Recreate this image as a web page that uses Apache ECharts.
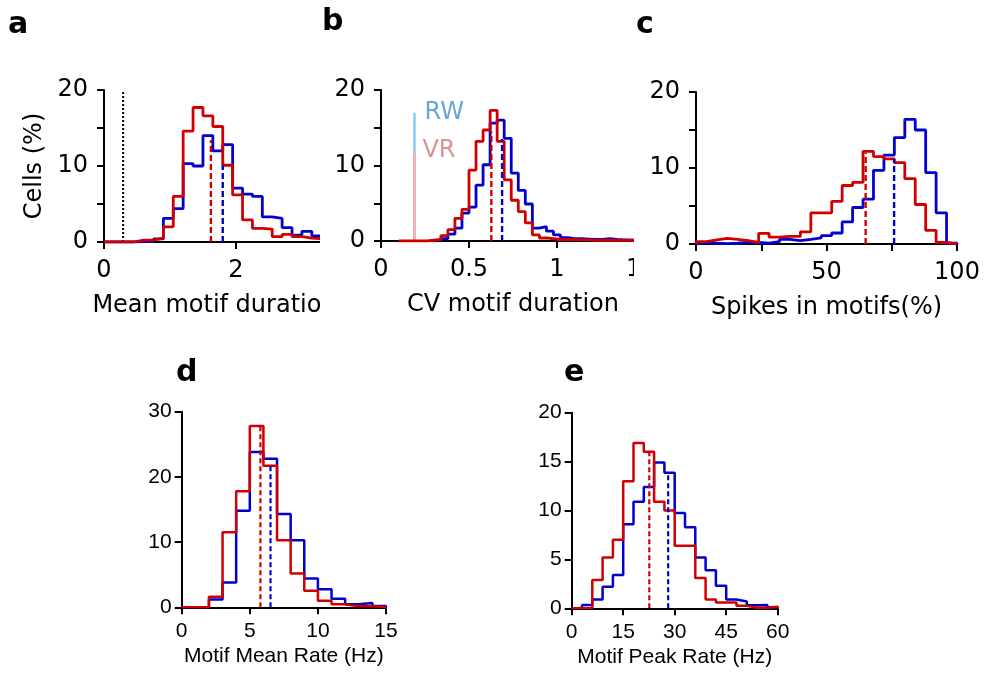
<!DOCTYPE html>
<html><head><meta charset="utf-8">
<script src="https://cdn.jsdelivr.net/npm/echarts@6/dist/echarts.min.js"></script>
<style>
html,body{margin:0;padding:0;background:#fff;width:984px;height:673px;overflow:hidden;}
.p{position:absolute;overflow:hidden;}
</style></head><body>
<div id="pa" class="p" style="left:0;top:0;width:320px;height:340px"></div>
<div id="pb" class="p" style="left:320px;top:0;width:314px;height:340px"></div>
<div id="pc" class="p" style="left:634px;top:0;width:350px;height:340px"></div>
<div id="pd" class="p" style="left:0;top:340px;width:490px;height:333px"></div>
<div id="pe" class="p" style="left:490px;top:340px;width:494px;height:333px"></div>
<script>
// ---------- DATA ----------
// Panel a: Mean motif duration, bins of 0.15 starting at 0
const aBinStart = 0, aBinWidth = 0.15;
const aRed  = [0,0,0,0.25,0.25,0.5,2.0,6.0,14.6,17.7,16.6,15.2,10.1,6.2,2.9,1.8,1.7,0.7,1.0,0.7,0.5,0.45,0.45];
const aBlue = [0,0,0,0.05,0.05,0.4,3.1,4.4,10.3,10.0,14.0,12.0,12.8,7.1,6.3,6.0,3.3,3.1,1.9,0.9,1.4,0.8,0.8];
const aMedRed = [1.62, 13.4], aMedBlue = [1.80, 10.1];
const aThreshold = [0.29, 20];
const aXTicks = [0, 2], aYTicks = [0, 10, 20];

// Panel b: CV motif duration, bins of 0.04
const bBinWidth = 0.04;
const bRedStart = 0.10;
const bRed  = [0,0,0,0,0.1,0.2,0.7,1.5,3.0,4.2,9.4,13.2,14.7,17.3,13.2,8.1,5.4,3.9,2.4,0.8,0.4,0.3,0.2,0.2,0.2,0.15,0.15,0.1,0.1,0.1,0.1,0.1,0.1,0.1,0.1];
const bBlueStart = 0.34;
const bBlue = [0.3,0.9,1.7,3.7,4.5,7.4,10.1,15.6,16.0,13.6,9.0,6.7,4.9,1.7,1.9,1.3,0.8,0.45,0.3,0.3,0.25,0.2,0.2,0.3,0.2,0.15,0.1,0.1,0.1];
const bMedRed = [0.627, 14.5], bMedBlue = [0.688, 13.5];
const bLegendX = 0.19, bRWTop = 17, bVRTop = 12;
const bYTicks = [0, 10, 20];

// Panel c: Spikes in motifs (%), bins of 4
const cBinStart = 0, cBinWidth = 4;
const cRed  = [0.3,0.55,0.75,0.6,0.45,0.2,1.4,0.9,1.0,1.0,1.6,4.1,4.1,5.6,7.7,8.1,12.2,11.5,11.2,10.7,8.6,5.2,1.8,0.2,0];
const cBlue = [0.2,0.1,0.05,0.1,0.2,0.2,0.1,0.3,0.6,0.45,0.6,0.8,1.1,1.45,2.9,4.8,5.9,9.7,11.7,14.0,16.4,15.0,9.4,4.1,0.1];
const cMedRed = [65, 12.0], cMedBlue = [75.9, 11.2];
const cXTicks = [0, 50, 100], cYTicks = [0, 10, 20];

// Panel d: Motif Mean Rate (Hz), bins of 1
const dBinStart = 0, dBinWidth = 1;
const dRed  = [0,0,1.6,11.5,17.8,27.8,21.7,10.3,5.2,2.55,1.0,0.45,0.15,0.15,0.05];
const dBlue = [0,0,1.2,3.8,14.8,23.8,22.8,14.3,10.3,4.4,2.75,1.3,0.45,0.65,0.2];
const dMedRed = [5.78, 27.8], dMedBlue = [6.52, 21.9];

// Panel e: Motif Peak Rate (Hz), bins of 3
const eBinStart = 0, eBinWidth = 3;
const eRed  = [0,0,2.9,5.2,7.0,13.0,16.9,16.0,10.9,10.0,6.4,6.4,3.1,0.9,0.6,0.6,0.25,0.05,0.05,0.15];
const eBlue = [0,0.35,0.9,2.2,3.4,8.6,10.9,12.4,14.9,13.85,9.75,8.3,5.2,3.9,2.3,0.9,0.7,0.3,0.35,0.1];
const eMedRed = [22.6, 16.0], eMedBlue = [28.1, 13.6];

// ---------- STYLE ----------
const RED = '#d00000', BLUE = '#0000d0';
const FT = 'DejaVu Sans', FB = 'Liberation Sans';
const AX = {color:'#000', width:2};

function hist(start, w, vals) {
  const pts = [[start, 0]];
  for (let i = 0; i < vals.length; i++) {
    const x0 = +(start + i * w).toFixed(6), x1 = +(start + (i + 1) * w).toFixed(6);
    pts.push([x0, vals[i]], [x1, vals[i]]);
  }
  pts.push([+(start + vals.length * w).toFixed(6), 0]);
  return pts;
}
function vline(p) { return [[p[0], 0], [p[0], p[1]]]; }
function ls(data, color, width, type, extra) {
  return Object.assign({type:'line', data, symbol:'none', silent:true, animation:false,
    lineStyle:{color, width, type: type || 'solid'}, itemStyle:{color}, emphasis:{disabled:true}}, extra || {});
}
function only(list) { return v => list.some(t => Math.abs(t - v) < 1e-9) ? String(v) : ''; }
function xAx(o, font, fs, margin) {
  return {type:'value', min:o.min, max:o.max, interval:o.interval, name:o.name, nameLocation:'middle', nameGap:o.nameGap,
    nameTextStyle:{color:'#000', fontFamily:font, fontSize:o.nameSize || fs},
    axisLine:{onZero:false, lineStyle:AX}, axisTick:{length:7, lineStyle:AX},
    axisLabel:{color:'#000', fontFamily:font, fontSize:fs, margin:margin, formatter:o.fmt, hideOverlap:false},
    splitLine:{show:false}};
}
function yAx(o, font, fs, margin) {
  const a = {type:'value', min:o.min, max:o.max, interval:o.interval,
    axisLine:{onZero:false, lineStyle:AX}, axisTick:{length:7, lineStyle:AX},
    axisLabel:{color:'#000', fontFamily:font, fontSize:fs, margin:margin, formatter:o.fmt},
    splitLine:{show:false}};
  if (o.name) { a.name = o.name; a.nameLocation = 'middle'; a.nameGap = o.nameGap;
    a.nameTextStyle = {color:'#000', fontFamily:font, fontSize:fs}; }
  return a;
}
function title(t, left, top) {
  return {text:t, left, top, padding:0, textStyle:{fontFamily:FT, fontWeight:'bold', fontSize:30, color:'#000'}};
}
function grid(l, t, w, h) {
  return {left:l, top:t, width:w, height:h, containLabel:false, outerBoundsMode:'none'};
}
const LWT = 2.8, LWB = 2.5, DW = 2.4, DASH = [6,3];

// ---------- PANEL A ----------
echarts.init(document.getElementById('pa')).setOption({
  animation:false,
  title: title('a', 8, 10),
  grid: grid(104, 90, 221, 152),
  xAxis: xAx({min:0, max:3.35, interval:2, name:'Mean motif duration', nameGap:52, fmt:only(aXTicks)}, FT, 24, 17),
  yAxis: yAx({min:0, max:20, interval:5, name:'Cells (%)', nameGap:52, fmt:only(aYTicks)}, FT, 24, 16),
  series:[
    ls(vline(aThreshold), '#000', 2, [2,2]),
    ls(hist(aBinStart, aBinWidth, aBlue), BLUE, LWT),
    ls(hist(aBinStart, aBinWidth, aRed), RED, LWT),
    ls(vline(aMedBlue), BLUE, DW, DASH),
    ls(vline(aMedRed), RED, DW, DASH)
  ]
});

// ---------- PANEL B ----------
echarts.init(document.getElementById('pb')).setOption({
  animation:false,
  title: title('b', 2, 7),
  grid: grid(61, 90, 264, 151),
  xAxis: xAx({min:0, max:1.5, interval:0.5, name:'CV motif duration', nameGap:52}, FT, 24, 17),
  yAxis: yAx({min:0, max:20, interval:5, fmt:only(bYTicks)}, FT, 24, 16),
  series:[
    ls([[bLegendX,0],{value:[bLegendX,bRWTop], label:{show:true, position:'right', distance:10, formatter:'RW', color:'#6aa6d6', fontFamily:FT, fontSize:24}}],
       '#8ccdf5', 2.6, 'solid', {symbol:'circle', symbolSize:0, showSymbol:true}),
    ls([[bLegendX,0],{value:[bLegendX,bVRTop], label:{show:true, position:'right', distance:8, formatter:'VR', color:'#df9090', fontFamily:FT, fontSize:24}}],
       '#f5aeae', 2.6, 'solid', {symbol:'circle', symbolSize:0, showSymbol:true}),
    ls(hist(bBlueStart, bBinWidth, bBlue), BLUE, LWT),
    ls(hist(bRedStart, bBinWidth, bRed), RED, LWT),
    ls(vline(bMedBlue), BLUE, DW, DASH),
    ls(vline(bMedRed), RED, DW, DASH)
  ]
});

// ---------- PANEL C ----------
echarts.init(document.getElementById('pc')).setOption({
  animation:false,
  title: title('c', 2, 10),
  grid: grid(62, 92, 261, 152),
  xAxis: xAx({min:0, max:100, interval:25, name:'Spikes in motifs(%)', nameGap:52, fmt:only(cXTicks)}, FT, 24, 17),
  yAxis: yAx({min:0, max:20, interval:5, fmt:only(cYTicks)}, FT, 24, 16),
  series:[
    ls(hist(cBinStart, cBinWidth, cBlue), BLUE, LWT),
    ls(hist(cBinStart, cBinWidth, cRed), RED, LWT),
    ls(vline(cMedBlue), BLUE, DW, DASH),
    ls(vline(cMedRed), RED, DW, DASH)
  ]
});

// ---------- PANEL D ----------
echarts.init(document.getElementById('pd')).setOption({
  animation:false,
  title: title('d', 176, 18),
  grid: grid(181.7, 71.7, 204.3, 195.6),
  xAxis: xAx({min:0, max:15, interval:5, name:'Motif Mean Rate (Hz)', nameGap:35, nameSize:21}, FB, 21, 13),
  yAxis: yAx({min:0, max:30, interval:10}, FB, 21, 10),
  series:[
    ls(hist(dBinStart, dBinWidth, dBlue), BLUE, LWB),
    ls(hist(dBinStart, dBinWidth, dRed), RED, LWB),
    ls(vline(dMedBlue), BLUE, 2.2, [5,3]),
    ls(vline(dMedRed), RED, 2.2, [5,3])
  ]
});

// ---------- PANEL E ----------
echarts.init(document.getElementById('pe')).setOption({
  animation:false,
  title: title('e', 74, 18),
  grid: grid(81.7, 72.7, 206, 195.6),
  xAxis: xAx({min:0, max:60, interval:15, name:'Motif Peak Rate (Hz)', nameGap:35, nameSize:21}, FB, 21, 13),
  yAxis: yAx({min:0, max:20, interval:5}, FB, 21, 10),
  series:[
    ls(hist(eBinStart, eBinWidth, eBlue), BLUE, LWB),
    ls(hist(eBinStart, eBinWidth, eRed), RED, LWB),
    ls(vline(eMedBlue), BLUE, 2.2, [5,3]),
    ls(vline(eMedRed), RED, 2.2, [5,3])
  ]
});
</script></body></html>
